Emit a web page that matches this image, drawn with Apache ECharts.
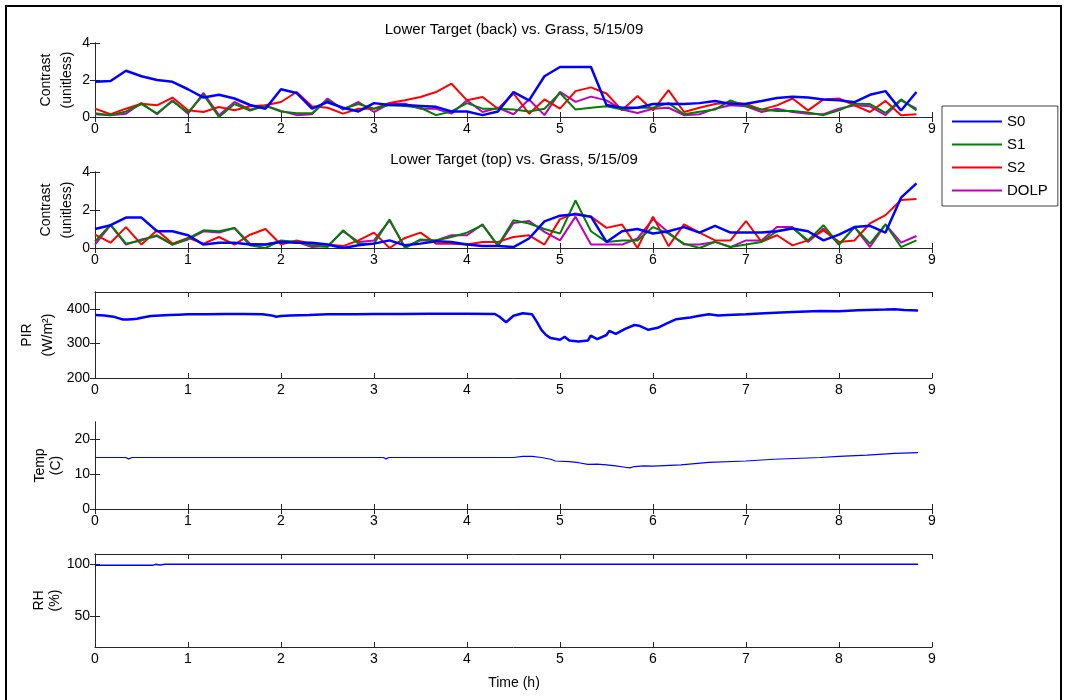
<!DOCTYPE html>
<html><head><meta charset="utf-8">
<script src="https://cdn.jsdelivr.net/npm/echarts@6/dist/echarts.min.js"></script>
<style>html,body{margin:0;padding:0;background:#fff}#c{width:1066px;height:700px}</style>
</head><body><div id="c"></div><script>
// ---- data ----
const hours = [0,0.167,0.333,0.5,0.667,0.833,1,1.167,1.333,1.5,1.667,1.833,2,2.167,2.333,2.5,2.667,2.833,3,3.167,3.333,3.5,3.667,3.833,4,4.167,4.333,4.5,4.667,4.833,5,5.167,5.333,5.5,5.667,5.833,6,6.167,6.333,6.5,6.667,6.833,7,7.167,7.333,7.5,7.667,7.833,8,8.167,8.333,8.5,8.667,8.833];
const seriesNames = ['S0','S1','S2','DOLP'];
// Lower Target (back)
const backS0   = [1.9,1.95,2.5,2.2,2.0,1.9, 1.5,1.05,1.2,1.0,0.65,0.45, 1.5,1.3,0.45,0.8,0.5,0.3, 0.75,0.65,0.65,0.6,0.55,0.3, 0.3,0.1,0.3,1.35,0.9,2.2, 2.7,2.7,2.7,0.65,0.5,0.5, 0.7,0.72,0.7,0.75,0.87,0.7, 0.72,0.87,1.03,1.1,1.05,0.95, 0.9,0.8,1.2,1.4,0.35,1.35];
const backS1   = [0.2,0.1,0.3,0.7,0.2,0.85, 0.25,1.2,0.0,0.7,0.35,0.6, 0.3,0.2,0.2,0.9,0.45,0.7, 0.45,0.65,0.6,0.5,0.1,0.3, 0.75,0.45,0.45,0.4,0.3,0.45, 1.3,0.4,0.5,0.58,0.4,0.5, 0.5,0.75,0.15,0.28,0.4,0.9, 0.58,0.4,0.33,0.33,0.25,0.1, 0.36,0.72,0.7,0.22,0.95,0.36];
const backS2   = [0.45,0.15,0.45,0.72,0.63,1.05, 0.36,0.27,0.54,0.36,0.58,0.63, 0.81,1.35,0.58,0.5,0.18,0.45, 0.45,0.76,0.9,1.08,1.35,1.8, 0.9,1.08,0.45,1.27,0.18,0.95, 0.45,1.4,1.6,1.27,0.36,1.13, 0.36,1.45,0.27,0.5,0.7,0.8, 0.7,0.4,0.63,1.0,0.36,0.95, 1.0,0.63,0.27,0.87,0.1,0.15];
const backDOLP = [0.15,0.1,0.18,0.76,0.15,0.9, 0.18,1.3,0.1,0.81,0.4,0.63, 0.33,0.1,0.15,1.0,0.4,0.81, 0.27,0.72,0.72,0.45,0.45,0.18, 0.9,0.27,0.5,0.15,0.95,0.1, 1.36,0.82,1.1,0.9,0.4,0.22, 0.45,0.5,0.1,0.15,0.45,0.63, 0.58,0.27,0.45,0.27,0.18,0.15, 0.45,0.63,0.58,0.1,0.9,0.45];
// Lower Target (top)
const topS0   = [1.0,1.2,1.6,1.6,0.88,0.88, 0.67,0.18,0.28,0.28,0.18,0.18, 0.32,0.28,0.28,0.18,0.0,0.14, 0.23,0.4,0.14,0.23,0.35,0.32, 0.18,0.1,0.1,0.05,0.5,1.4, 1.7,1.77,1.65,0.32,0.88,1.0, 0.76,0.88,1.1,0.81,1.17,0.81, 0.81,0.81,0.88,1.03,0.88,0.4, 0.7,1.1,1.17,0.81,2.65,3.4];
const topS1   = [0.35,1.23,0.23,0.4,0.67,0.18, 0.5,0.93,0.88,1.05,0.14,0.0, 0.4,0.32,0.14,0.05,0.93,0.23, 0.23,1.5,0.0,0.45,0.4,0.58, 0.81,1.2,0.14,1.46,1.29,1.0, 0.76,2.5,0.88,0.32,0.4,0.4, 1.1,0.76,0.23,0.0,0.32,0.05, 0.18,0.32,0.88,1.05,0.4,1.2, 0.18,1.1,0.23,1.24,0.05,0.4];
const topS2   = [0.7,0.28,1.1,0.18,0.93,0.23, 0.53,0.23,0.58,0.18,0.7,1.0, 0.18,0.4,0.23,0.18,0.1,0.4, 0.81,0.0,0.53,0.81,0.23,0.23, 0.18,0.32,0.32,0.58,0.67,0.18, 1.52,1.82,1.65,1.06,1.24,0.0, 1.65,0.1,1.24,0.81,0.4,0.4, 1.42,0.32,0.67,0.14,0.4,0.93, 0.32,0.4,1.29,1.73,2.53,2.58];
const topDOLP = [0.18,1.2,0.18,0.45,0.63,0.18, 0.45,0.88,0.81,1.05,0.23,0.18, 0.35,0.32,0.05,0.1,0.88,0.32, 0.4,1.45,0.05,0.4,0.4,0.67, 0.67,1.24,0.1,1.32,1.42,0.85, 0.4,1.65,0.18,0.18,0.18,0.5, 1.52,0.81,0.18,0.18,0.32,0.05, 0.4,0.4,1.1,1.1,0.32,1.03, 0.18,1.1,0.05,1.24,0.28,0.63];
// PIR
const pirTime  = [0,0.1,0.2,0.25,0.3,0.35,0.4,0.45,0.5,0.6,0.7,0.8,0.9,1.0,1.2,1.4,1.6,1.8,1.9,1.95,2.0,2.1,2.3,2.5,2.8,3.0,3.3,3.6,4.0,4.3,4.35,4.42,4.5,4.6,4.7,4.75,4.8,4.85,4.9,5.0,5.05,5.1,5.2,5.3,5.33,5.4,5.5,5.53,5.6,5.7,5.8,5.85,5.95,6.05,6.15,6.25,6.4,6.5,6.6,6.7,6.8,7.0,7.2,7.5,7.8,8.0,8.2,8.5,8.6,8.7,8.85];
const pirValue = [383,382,378,374,370,370,371,372,375,380,382,383,384,385,385,386,386,385,382,378,380,382,383,385,385,386,386,387,387,386,378,362,381,388,385,364,340,325,316,311,320,309,306,309,323,313,325,337,328,343,354,352,340,346,359,371,376,381,385,382,383,385,388,392,395,394,397,399,400,398,396];
// Temp
const tempTime  = [0,0.33,0.36,0.4,1.0,2.0,3.1,3.13,3.16,4.0,4.5,4.6,4.7,4.8,4.9,4.95,5.1,5.2,5.3,5.4,5.5,5.6,5.7,5.75,5.8,5.9,6.0,6.3,6.6,7.0,7.3,7.8,8.0,8.3,8.6,8.85];
const tempValue = [14.8,14.8,14.4,14.8,14.8,14.8,14.8,14.4,14.8,14.8,14.8,15.1,15.1,14.8,14.3,13.8,13.6,13.3,12.8,12.9,12.7,12.4,12.0,11.8,12.2,12.4,12.3,12.7,13.4,13.8,14.3,14.8,15.1,15.5,16.0,16.2];
// RH
const rhTime  = [0,0.62,0.65,0.7,0.75,1.0,8.85];
const rhValue = [99,99,100,99.4,100,100,100];
// tick labels
const xTicks = [0,1,2,3,4,5,6,7,8,9];
const contrastTicks = [0,2,4];
const pirTicks = [200,300,400];
const tempTicks = [0,10,20];
const rhTicks = [50,100];
const titles = ['Lower Target (back) vs. Grass, 5/15/09','Lower Target (top) vs. Grass, 5/15/09'];

// ---- chart ----
const FONT = '"Liberation Sans", Arial, sans-serif';
const colors = {S0:'#0000ff', S1:'#008000', S2:'#ff0000', DOLP:'#bf00bf'};
const AX = '#262626';
const panels = [
  {top:43,  height:74, min:0,   max:4,   ticks:contrastTicks, name:'Contrast\n(unitless)', gap:17, lh:21},
  {top:172, height:76, min:0,   max:4,   ticks:contrastTicks, name:'Contrast\n(unitless)', gap:17, lh:21},
  {top:292, height:86, min:200, max:450, ticks:pirTicks,      name:'PIR\n(W/m²)',          gap:36, lh:21},
  {top:422, height:87, min:0,   max:25,  ticks:tempTicks,     name:'Temp\n(C)',            gap:31, lh:16},
  {top:554, height:93, min:20,  max:110, ticks:rhTicks,       name:'RH\n(%)',              gap:32, lh:16}
];
const grid=[], xAxis=[], yAxis=[], series=[];
const tick = {show:true, inside:true, length:5, lineStyle:{color:AX}};
const line = {show:true, lineStyle:{color:AX, width:1}};
panels.forEach((p,i)=>{
  grid.push({left:95, right:134, top:p.top, height:p.height});
  xAxis.push({type:'value', gridIndex:i, min:0, max:9, interval:1, position:'bottom',
    axisLine:line, axisTick:tick, splitLine:{show:false},
    axisLabel:{show:true, margin:5, color:'#000', fontSize:14, fontFamily:FONT, customValues:xTicks}});
  xAxis.push({type:'value', gridIndex:i, min:0, max:9, interval:1, position:'top',
    axisLine:line, axisTick:tick, splitLine:{show:false}, axisLabel:{show:false}});
  yAxis.push({type:'value', gridIndex:i, min:p.min, max:p.max, position:'left',
    axisLine:line, axisTick:Object.assign({customValues:p.ticks}, tick), splitLine:{show:false},
    axisLabel:{customValues:p.ticks, margin:5, color:'#000', fontSize:14, fontFamily:FONT},
    name:p.name, nameLocation:'middle', nameRotate:90, nameGap:p.gap, nameMoveOverlap:false,
    nameTextStyle:{color:'#000', fontSize:14, fontFamily:FONT, lineHeight:p.lh}});
  yAxis.push({type:'value', gridIndex:i, min:p.min, max:p.max, position:'right',
    axisLine:line, axisTick:Object.assign({customValues:p.ticks}, tick), splitLine:{show:false},
    axisLabel:{show:false}});
});
const zip = (xs, ys) => xs.map((x,j)=>[x, ys[j]]);
const contrastPanels = [[backS0,backS1,backS2,backDOLP],[topS0,topS1,topS2,topDOLP]];
contrastPanels.forEach((arrs,i)=>{
  arrs.forEach((arr,k)=>{
    const nm = seriesNames[k];
    series.push({type:'line', name:nm, xAxisIndex:2*i, yAxisIndex:2*i, data:zip(hours,arr),
      showSymbol:false, symbol:'none', animation:false, z:10-k,
      lineStyle:{color:colors[nm], width: k===0?2.5:2}, itemStyle:{color:colors[nm]}});
  });
});
series.push({type:'line', name:'PIR', xAxisIndex:4, yAxisIndex:4, data:zip(pirTime,pirValue), symbol:'none', animation:false, lineStyle:{color:'#0000ff', width:2.5}});
series.push({type:'line', name:'Temp', xAxisIndex:6, yAxisIndex:6, data:zip(tempTime,tempValue), symbol:'none', animation:false, lineStyle:{color:'#0000ff', width:1.2}});
series.push({type:'line', name:'RH', xAxisIndex:8, yAxisIndex:8, data:zip(rhTime,rhValue), symbol:'none', animation:false, lineStyle:{color:'#0000ff', width:1.5}});

const chart = echarts.init(document.getElementById('c'), null, {renderer:'canvas'});
chart.setOption({
  backgroundColor:'#fff',
  animation:false,
  grid, xAxis, yAxis, series,
  legend:{
    data:seriesNames, orient:'vertical', left:942, top:106,
    icon:'rect', itemWidth:50, itemHeight:2, itemGap:6,
    padding:[7,10,7,10], borderColor:'#444', borderWidth:1, backgroundColor:'#fff',
    selectedMode:false,
    textStyle:{color:'#000', fontSize:15, fontFamily:FONT, lineHeight:17}
  },
  graphic:[
    {type:'rect', shape:{x:6,y:6,width:1055,height:710}, style:{fill:'none', stroke:'#000', lineWidth:2}, silent:true},
    {type:'text', x:514, y:30, style:{text:titles[0], textAlign:'center', textVerticalAlign:'middle', fill:'#000', font:'15px '+FONT}},
    {type:'text', x:514, y:160, style:{text:titles[1], textAlign:'center', textVerticalAlign:'middle', fill:'#000', font:'15px '+FONT}},
    {type:'text', x:514, y:683, style:{text:'Time (h)', textAlign:'center', textVerticalAlign:'middle', fill:'#000', font:'14px '+FONT}}
  ]
});
</script></body></html>
